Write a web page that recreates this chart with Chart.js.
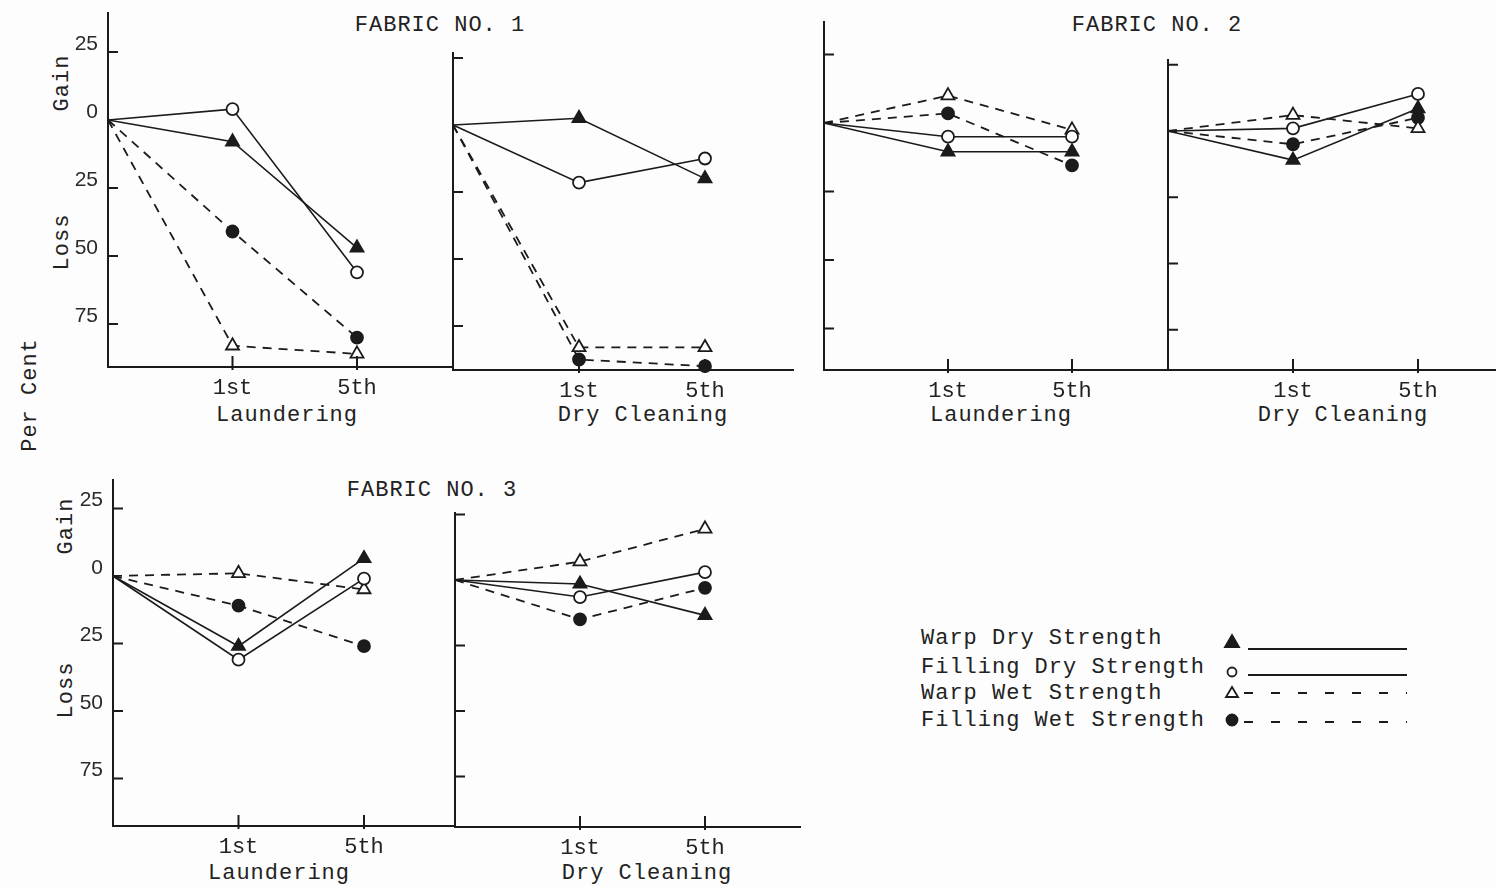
<!DOCTYPE html>
<html>
<head>
<meta charset="utf-8">
<title>Strength change after laundering and dry cleaning</title>
<script src="https://cdn.jsdelivr.net/npm/chart.js@4.4.1/dist/chart.umd.min.js"></script>
<style>
  body { margin: 0; background: #fff; }
  #sheet { position: relative; width: 1496px; height: 887px; overflow: hidden; background: #fdfdfd; }
  #sheet canvas { position: absolute; }
  .txt {
    position: absolute; white-space: nowrap; color: #222;
    font-family: "Liberation Mono", "DejaVu Sans Mono", monospace;
    font-size: 22px; letter-spacing: 1px;
    transform: translate(-50%, -50%);
  }
  .rot { transform: translate(-50%, -50%) rotate(-90deg); }
  .leg { transform: translate(0, -50%); }
  #legendKey { position: absolute; left: 1210px; top: 625px; }
</style>
</head>
<body>
<div id="sheet">
  <div class="txt" style="left:440px;top:25px">FABRIC NO. 1</div>
  <div class="txt" style="left:1157px;top:25px">FABRIC NO. 2</div>
  <div class="txt" style="left:432px;top:490px">FABRIC NO. 3</div>

  <div class="txt" style="left:287px;top:415px">Laundering</div>
  <div class="txt" style="left:643px;top:415px">Dry Cleaning</div>
  <div class="txt" style="left:1001px;top:415px">Laundering</div>
  <div class="txt" style="left:1343px;top:415px">Dry Cleaning</div>
  <div class="txt" style="left:279px;top:873px">Laundering</div>
  <div class="txt" style="left:647px;top:873px">Dry Cleaning</div>

  <div class="txt rot" style="left:62px;top:83px">Gain</div>
  <div class="txt rot" style="left:62px;top:242px">Loss</div>
  <div class="txt rot" style="left:66px;top:526px">Gain</div>
  <div class="txt rot" style="left:66px;top:690px">Loss</div>
  <div class="txt rot" style="left:30px;top:395px">Per Cent</div>

  <div class="txt leg" style="left:921px;top:638px">Warp Dry Strength</div>
  <div class="txt leg" style="left:921px;top:667px">Filling Dry Strength</div>
  <div class="txt leg" style="left:921px;top:693px">Warp Wet Strength</div>
  <div class="txt leg" style="left:921px;top:720px">Filling Wet Strength</div>
  <svg id="legendKey" width="210" height="110">
    <g stroke="#1b1b1b" stroke-width="1.8" fill="none">
      <polygon points="22,10 29,22 15,22" fill="#1b1b1b"/>
      <line x1="38" y1="24" x2="197" y2="24"/>
      <circle cx="22" cy="47" r="4.5" fill="#fff"/>
      <line x1="38" y1="50" x2="197" y2="50"/>
      <polygon points="22,62 28,72 16,72" fill="#fff"/>
      <line x1="34" y1="68" x2="197" y2="68" stroke-dasharray="9 18"/>
      <circle cx="22" cy="95" r="5.5" fill="#1b1b1b"/>
      <line x1="34" y1="97" x2="197" y2="97" stroke-dasharray="9 18"/>
    </g>
  </svg>
</div>

<script>
// x positions: untreated start, after 1st and after 5th treatment
const steps = [0, 1, 2];
const treatLabels = ["1st", "5th"];
// per cent change ticks (positive = gain, negative = loss)
const yTicks = [25, 0, -25, -50, -75];
const seriesNames = ["Warp Dry Strength", "Filling Dry Strength", "Warp Wet Strength", "Filling Wet Strength"];

// Fabric No. 1
const fab1LaunWarpDry = [0, -8, -47];
const fab1LaunFillDry = [0, 4, -56];
const fab1LaunWarpWet = [0, -83, -86];
const fab1LaunFillWet = [0, -41, -80];

const fab1DryWarpDry = [0, 2.5, -20];
const fab1DryFillDry = [0, -21.5, -12.5];
const fab1DryWarpWet = [0, -83, -83];
const fab1DryFillWet = [0, -87.5, -90];

// Fabric No. 2
const fab2LaunWarpDry = [0, -10.5, -10.5];
const fab2LaunFillDry = [0, -5, -5];
const fab2LaunWarpWet = [0, 10, -2.5];
const fab2LaunFillWet = [0, 3.5, -15.5];

const fab2DryWarpDry = [0, -11, 8.5];
const fab2DryFillDry = [0, 1, 14];
const fab2DryWarpWet = [0, 6, 1];
const fab2DryFillWet = [0, -5, 5];

// Fabric No. 3
const fab3LaunWarpDry = [0, -26, 6.5];
const fab3LaunFillDry = [0, -31, -1];
const fab3LaunWarpWet = [0, 1, -5];
const fab3LaunFillWet = [0, -11, -26];

const fab3DryWarpDry = [0, -1.5, -13.5];
const fab3DryFillDry = [0, -6.5, 3];
const fab3DryWarpWet = [0, 7, 19.5];
const fab3DryFillWet = [0, -15, -3];

const INK = "#1b1b1b";
const AXIS_W = 60;   // room left of the y axis
const AXIS_H = 44;   // room under the x axis
const PAD = 4;

// where each small plot sits on the sheet
const panels = [
  { data: [fab1LaunWarpDry, fab1LaunFillDry, fab1LaunWarpWet, fab1LaunFillWet],
    axisX: 108, endX: 453, topY: 13, zeroY: 120, bottomY: 367, ppu: 2.72, unit: 124.5, labels: true },
  { data: [fab1DryWarpDry, fab1DryFillDry, fab1DryWarpWet, fab1DryFillWet],
    axisX: 453, endX: 793, topY: 53, zeroY: 125, bottomY: 370, ppu: 2.68, unit: 126, labels: false },
  { data: [fab2LaunWarpDry, fab2LaunFillDry, fab2LaunWarpWet, fab2LaunFillWet],
    axisX: 824, endX: 1168, topY: 22, zeroY: 123, bottomY: 370, ppu: 2.74, unit: 124, labels: false },
  { data: [fab2DryWarpDry, fab2DryFillDry, fab2DryWarpWet, fab2DryFillWet],
    axisX: 1168, endX: 1496, topY: 60, zeroY: 131, bottomY: 370, ppu: 2.65, unit: 125, labels: false },
  { data: [fab3LaunWarpDry, fab3LaunFillDry, fab3LaunWarpWet, fab3LaunFillWet],
    axisX: 113, endX: 455, topY: 480, zeroY: 576, bottomY: 826, ppu: 2.7, unit: 125.5, labels: true },
  { data: [fab3DryWarpDry, fab3DryFillDry, fab3DryWarpWet, fab3DryFillWet],
    axisX: 455, endX: 800, topY: 513, zeroY: 580, bottomY: 827, ppu: 2.62, unit: 125, labels: false },
];

// marker and line look of the four series
const looks = [
  { pointStyle: "triangle", radius: 7.5, fill: INK, dash: [] },
  { pointStyle: "circle", radius: 6, fill: "#fff", dash: [] },
  { pointStyle: "triangle", radius: 7.5, fill: "#fff", dash: [9, 7] },
  { pointStyle: "circle", radius: 6, fill: INK, dash: [9, 7] },
];

// tick marks drawn on the inside of both axes
const inwardTicks = {
  id: "inwardTicks",
  afterDraw(chart) {
    const { ctx, chartArea, scales: { x, y } } = chart;
    ctx.save();
    ctx.strokeStyle = INK;
    ctx.lineWidth = 2;
    ctx.beginPath();
    y.ticks.forEach(t => {
      if (t.value === 0) return;
      const py = y.getPixelForValue(t.value);
      ctx.moveTo(chartArea.left, py);
      ctx.lineTo(chartArea.left + 10, py);
    });
    x.ticks.forEach(t => {
      const px = x.getPixelForValue(t.value);
      ctx.moveTo(px, chartArea.bottom - 11);
      ctx.lineTo(px, chartArea.bottom + 3);
    });
    ctx.stroke();
    ctx.restore();
  }
};

const sheet = document.getElementById("sheet");

panels.forEach(p => {
  const plotW = p.endX - p.axisX;
  const plotH = p.bottomY - p.topY;
  const canvas = document.createElement("canvas");
  canvas.width = AXIS_W + plotW + PAD;
  canvas.height = PAD + plotH + AXIS_H;
  canvas.style.left = (p.axisX - AXIS_W) + "px";
  canvas.style.top = (p.topY - PAD) + "px";
  sheet.appendChild(canvas);

  const datasets = p.data.map((vals, i) => ({
    label: seriesNames[i],
    data: steps.map((s, k) => ({ x: s, y: vals[k] })),
    borderColor: INK,
    borderWidth: i < 2 ? 1.6 : 1.8,
    borderDash: looks[i].dash,
    pointStyle: looks[i].pointStyle,
    pointRadius: ctx => ctx.dataIndex === 0 ? 0 : looks[i].radius,
    pointBackgroundColor: looks[i].fill,
    pointBorderColor: INK,
    pointBorderWidth: 1.8,
    tension: 0,
    clip: false,
  }));

  new Chart(canvas, {
    type: "line",
    data: { datasets },
    options: {
      responsive: false,
      animation: false,
      layout: { autoPadding: false, padding: { top: PAD, right: PAD, left: 0, bottom: 0 } },
      plugins: { legend: { display: false }, tooltip: { enabled: false } },
      scales: {
        x: {
          type: "linear",
          min: 0,
          max: plotW / p.unit,
          afterBuildTicks: s => { s.ticks = [{ value: 1 }, { value: 2 }]; },
          afterFit: s => { s.height = AXIS_H; s.paddingLeft = 0; s.paddingRight = 0; },
          grid: { display: true, drawOnChartArea: false, drawTicks: false },
          border: { display: true, color: INK, width: 2 },
          ticks: {
            autoSkip: false, maxRotation: 0, padding: 8, color: "#222",
            font: { family: "Liberation Mono", size: 22 },
            callback: (v, i) => treatLabels[i],
          },
        },
        y: {
          type: "linear",
          min: -(p.bottomY - p.zeroY) / p.ppu,
          max: (p.zeroY - p.topY) / p.ppu,
          afterBuildTicks: s => { s.ticks = yTicks.map(v => ({ value: v })); },
          afterFit: s => { s.width = AXIS_W; s.paddingTop = 0; s.paddingBottom = 0; },
          grid: { display: true, drawOnChartArea: false, drawTicks: false },
          border: { display: true, color: INK, width: 2 },
          ticks: {
            display: p.labels, padding: 10, labelOffset: -8, color: "#2a2a2a",
            font: { family: "Liberation Sans", size: 21 },
            callback: v => Math.abs(v),
          },
        },
      },
    },
    plugins: [inwardTicks],
  });
});
</script>
</body>
</html>
